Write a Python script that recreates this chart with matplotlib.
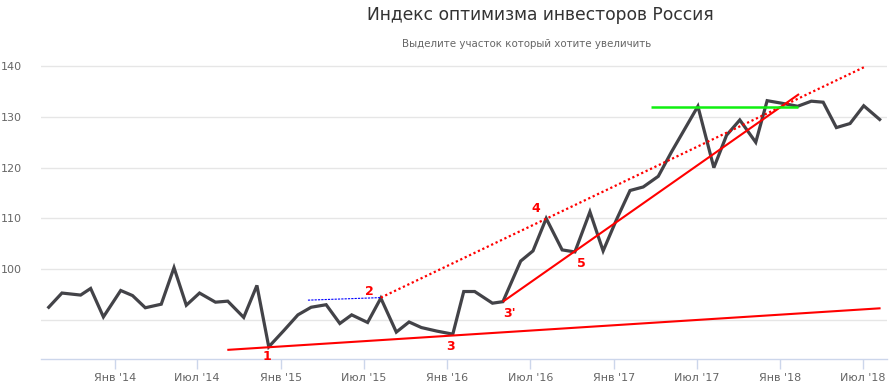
import matplotlib
matplotlib.use("Agg")
import matplotlib.pyplot as plt
import pandas as pd

TITLE = "Индекс оптимизма инвесторов Россия"
SUBTITLE = "Выделите участок который хотите увеличить"

dates = [
    "2013-08-09", "2013-09-07", "2013-10-18", "2013-11-09", "2013-12-07",
    "2014-01-14", "2014-02-09", "2014-03-09", "2014-04-13", "2014-05-11",
    "2014-06-07", "2014-07-06", "2014-08-10", "2014-09-06", "2014-10-11",
    "2014-11-09", "2014-12-05", "2015-01-07", "2015-02-07", "2015-03-08",
    "2015-04-10", "2015-05-10", "2015-06-05", "2015-07-10", "2015-08-08",
    "2015-09-11", "2015-10-09", "2015-11-05", "2015-12-09", "2016-01-13",
    "2016-02-06", "2016-03-01", "2016-04-09", "2016-05-02", "2016-06-10",
    "2016-07-07", "2016-08-05", "2016-09-09", "2016-10-07", "2016-11-09",
    "2016-12-08", "2017-01-06", "2017-02-05", "2017-03-06", "2017-04-08",
    "2017-05-07", "2017-06-05", "2017-07-04", "2017-08-08", "2017-09-05",
    "2017-10-04", "2017-11-08", "2017-12-03", "2018-01-04", "2018-02-08",
    "2018-03-10", "2018-04-05", "2018-05-04", "2018-06-03", "2018-07-03",
    "2018-08-07",
]
index_values = [
    92.5, 95.3, 94.9, 96.2, 90.6,
    95.8, 94.8, 92.4, 93.1, 100.3,
    92.9, 95.3, 93.5, 93.7, 90.5,
    96.8, 84.7, 87.9, 91.0, 92.5,
    93.0, 89.3, 91.0, 89.5, 94.3,
    87.6, 89.6, 88.5, 87.8, 87.2,
    95.6, 95.6, 93.3, 93.6, 101.6,
    103.6, 110.0, 103.8, 103.4, 111.3,
    103.6, 109.7, 115.5, 116.2, 118.3,
    123.1, 127.6, 132.1, 120.0, 126.4,
    129.4, 125.0, 133.2, 132.7, 132.1,
    133.1, 132.9, 127.9, 128.7, 132.2,
    129.5,
]

# hand-drawn annotations: (start date, start value, end date, end value)
support_line = ("2014-09-05", 84.1, "2018-08-09", 92.3)
channel_dotted = ("2015-08-08", 94.4, "2018-07-06", 139.9)
trend_line = ("2016-05-02", 93.6, "2018-02-11", 134.5)
blue_level = ("2015-03-01", 93.9, "2015-08-08", 94.4)
green_level = ("2017-03-24", 131.9, "2018-02-08", 131.9)

marks = ["1", "2", "3", "3'", "4", "5"]
mark_dates = ["2014-11-30", "2015-07-14", "2016-01-09", "2016-05-17", "2016-07-14", "2016-10-22"]
mark_values = [82.8, 95.6, 84.7, 91.3, 112.0, 101.2]

tick_dates = ["2014-01-01", "2014-07-01", "2015-01-01", "2015-07-01", "2016-01-01",
              "2016-07-01", "2017-01-01", "2017-07-01", "2018-01-01", "2018-07-01"]
tick_labels = ["Янв '14", "Июл '14", "Янв '15", "Июл '15", "Янв '16",
               "Июл '16", "Янв '17", "Июл '17", "Янв '18", "Июл '18"]
y_ticks = [90, 100, 110, 120, 130, 140]


def _segment(ax, seg, **kw):
    x = pd.to_datetime([seg[0], seg[2]])
    ax.plot(x, [seg[1], seg[3]], solid_capstyle="butt", **kw)


fig = plt.figure(figsize=(8.89, 3.86), dpi=100)
ax = fig.add_axes([0.0461, 0.0699, 0.9516, 0.7876])

x = pd.to_datetime(dates)
ax.plot(x, index_values, color="#434348", lw=2.3, zorder=3, solid_joinstyle="miter")

_segment(ax, support_line, color="red", lw=1.5, zorder=4)
_segment(ax, trend_line, color="red", lw=1.5, zorder=4)
_segment(ax, channel_dotted, color="red", lw=1.6, ls=(0, (1, 1.2)), zorder=4)
_segment(ax, blue_level, color="blue", lw=0.8, ls=(0, (2, 1)), zorder=4)
_segment(ax, green_level, color="#10f010", lw=1.8, zorder=4)

for label, d, v in zip(marks, mark_dates, mark_values):
    ax.text(pd.Timestamp(d), v, label, color="red", fontsize=9, fontweight="bold",
            ha="center", va="center", clip_on=False, zorder=5)

ax.set_xlim(pd.Timestamp("2013-07-23"), pd.Timestamp("2018-08-23"))
ax.set_ylim(82.3, 142.2)

ax.set_xticks(pd.to_datetime(tick_dates))
ax.set_xticklabels(tick_labels)
ax.set_yticks(y_ticks)
ax.set_yticklabels(["" if t == 90 else str(t) for t in y_ticks])

ax.grid(axis="y", color="#e6e6e6", lw=1)
ax.set_axisbelow(True)
for side in ("top", "right", "left"):
    ax.spines[side].set_visible(False)
ax.spines["bottom"].set_color("#ccd6eb")
ax.spines["bottom"].set_linewidth(1)

ax.tick_params(axis="x", colors="#ccd6eb", length=7, width=1, pad=3,
               labelcolor="#666666", labelsize=8)
ax.tick_params(axis="y", length=0, pad=14, labelcolor="#666666", labelsize=8)

fig.text(540 / 889, 1 - 15 / 386, TITLE, ha="center", va="center",
         fontsize=12.3, color="#333333")
fig.text(527 / 889, 1 - 44 / 386, SUBTITLE, ha="center", va="center",
         fontsize=7.4, color="#666666")

fig.savefig("out.png", dpi=100)
plt.close(fig)
